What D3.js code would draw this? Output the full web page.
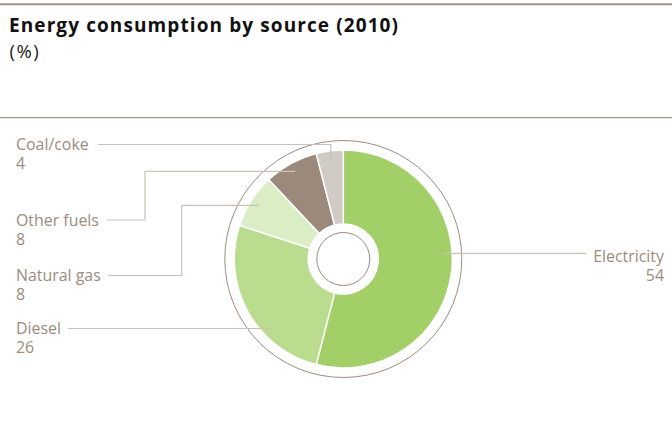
<!DOCTYPE html>
<html>
<head>
<meta charset="utf-8">
<script src="https://cdn.jsdelivr.net/npm/d3@7"></script>
<style>
  html, body { margin: 0; padding: 0; background: #fff; }
  svg { display: block; }
  text { font-family: "Open Sans", "Noto Sans", sans-serif; }
</style>
</head>
<body>
<svg id="chart" width="672" height="447"></svg>
<script>
// ---- data ----
const categories = ["Electricity", "Diesel", "Natural gas", "Other fuels", "Coal/coke"];
const values = [54, 26, 8, 8, 4];
const colors = ["#a2cf68", "#badc8e", "#dbedc5", "#9b8a7b", "#d1cbc5"];
const title = "Energy consumption by source (2010)";
const unit = "(%)";

// ---- layout ----
const W = 672, H = 447;
const cx = 343.3, cy = 259;
const rOuter = 109, rInner = 35, rRing = 118.5, rCore = 26.5, rLabel = 100;
const textColor = "#9b8c7e";
const lineColor = "#c9c1b9";

const svg = d3.select("#chart");

// widen a text with letter-spacing so that it spans the given width
function spread(sel, width) {
  const n = sel.text().length;
  const w = sel.node().getComputedTextLength();
  if (n > 1 && w < width) sel.attr("letter-spacing", (width - w) / (n - 1));
}
// scale a text's font so that it spans the given width
function fit(sel, width) {
  const w = sel.node().getComputedTextLength();
  const fs = parseFloat(sel.attr("font-size"));
  const nfs = fs * width / w;
  sel.attr("font-size", nfs);
  return nfs;
}

// rules
svg.append("line").attr("x1", 0).attr("x2", W).attr("y1", 4.3).attr("y2", 4.3)
  .attr("stroke", "#a39586").attr("stroke-width", 2);
svg.append("line").attr("x1", 0).attr("x2", W).attr("y1", 117.7).attr("y2", 117.7)
  .attr("stroke", "#a39586").attr("stroke-width", 1.2);

const tt = svg.append("text").attr("x", 9).attr("y", 32).text(title)
  .attr("font-weight", "bold").attr("font-size", 19).attr("fill", "#111");
spread(tt, 389);
svg.append("text").attr("x", 9.5).attr("y", 57.5).text(unit)
  .attr("font-size", 18.5).attr("letter-spacing", 1.5).attr("fill", "#222");

const data = categories.map((c, i) => ({ name: c, value: values[i], color: colors[i] }));
const pie = d3.pie().value(d => d.value).sort(null);
const arcs = pie(data);
const arc = d3.arc().innerRadius(rInner).outerRadius(rOuter);

const g = svg.append("g").attr("transform", `translate(${cx},${cy})`);

g.append("circle").attr("r", rRing).attr("fill", "none")
  .attr("stroke", "#9b8c7e").attr("stroke-width", 1);

g.selectAll("path.slice").data(arcs).enter().append("path")
  .attr("class", "slice")
  .attr("d", arc)
  .attr("fill", d => d.data.color)
  .attr("stroke", "#fff").attr("stroke-width", 1.5);

g.append("circle").attr("r", rCore).attr("fill", "#fff")
  .attr("stroke", "#9b8c7e").attr("stroke-width", 1);

// ---- labels ----
const polar = (a, r) => [cx + r * Math.sin(a), cy - r * Math.cos(a)];
const mid = d => (d.startAngle + d.endAngle) / 2;
const atY = (y, side) => { const dy = y - cy; const dx = Math.sqrt(rLabel * rLabel - dy * dy); return [cx + side * dx, y]; };

const labelSpec = {
  "Coal/coke":   { x: 16,  y: 150, anchor: "start", x0: 98 },
  "Other fuels": { x: 16,  y: 225.5, anchor: "start", x0: 107, elbow: 145 },
  "Natural gas": { x: 16,  y: 281, anchor: "start", x0: 108, elbow: 181.7 },
  "Diesel":      { x: 16,  y: 334, anchor: "start", x0: 68 },
  "Electricity": { x: 664, y: 262, anchor: "end", x0: 586 }
};

// label font size fitted on one label
const probe = svg.append("text").attr("font-size", 16).text("Other fuels");
const labelFs = fit(probe, 83);
probe.remove();

const lab = svg.append("g");
arcs.forEach(d => {
  const s = labelSpec[d.data.name];
  lab.append("text").attr("x", s.x).attr("y", s.y)
    .attr("text-anchor", s.anchor).attr("font-size", labelFs).attr("fill", textColor)
    .text(d.data.name);
  lab.append("text").attr("x", s.x).attr("y", s.y + 19)
    .attr("text-anchor", s.anchor).attr("font-size", labelFs).attr("fill", textColor)
    .text(d.value);

  const ly = s.y - 5.5;
  let pts;
  if (d.data.name === "Coal/coke") {
    const p = polar(mid(d), rLabel);
    pts = [[s.x0, ly], [p[0], ly], p];
  } else if (s.elbow) {
    const p = polar(mid(d), rLabel);
    pts = [[s.x0, ly], [s.elbow, ly], [s.elbow, p[1]], p];
  } else if (d.data.name === "Electricity") {
    const yy = s.y - 8.7;
    pts = [[s.x0, yy], atY(yy, 1)];
  } else {
    pts = [[s.x0, ly], atY(ly, -1)];
  }
  lab.append("path").attr("d", d3.line()(pts)).attr("fill", "none")
    .attr("stroke", lineColor).attr("stroke-width", 1.2);
});
</script>
</body>
</html>
